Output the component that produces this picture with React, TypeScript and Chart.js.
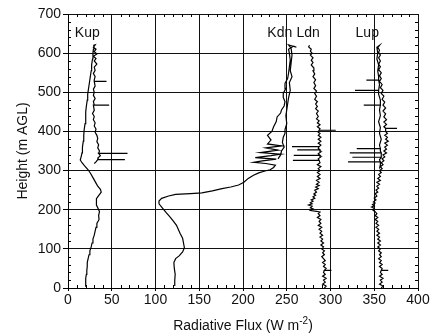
import React, { useEffect, useRef } from "react";
import { Chart, registerables } from "chart.js";

Chart.register(...registerables);

// [flux (W m-2), height (m AGL)]
const kup: [number, number][] = [
  [19.5, 5], [20, 15], [20.5, 25], [21, 35], [21.5, 45], [22, 55], [22, 65], [23, 75], [24, 85], [25, 95],
  [26.5, 105], [27.5, 115], [28.5, 125], [30, 135], [31, 145], [32, 155], [33, 165], [35.5, 175], [35, 185], [36, 195],
  [34, 205], [32.5, 212], [32, 220], [33, 228], [35, 236], [38, 245], [37, 252], [34, 260], [32, 268], [29, 280],
  [26, 292], [23, 302], [19, 312], [16, 320], [14, 327], [15, 335], [16, 345], [16.5, 360], [17.5, 375], [18, 390],
  [18.5, 405], [19.5, 420], [20, 435], [20.5, 450], [21, 465], [22, 480], [22.5, 495], [23.5, 510], [24.5, 525], [25.5, 540],
  [26.5, 555], [27, 570], [28, 585], [28.5, 600], [29, 610], [29.5, 620],
  [31, 621], [29, 615], [32, 610], [30, 604], [33, 598], [29, 592], [32, 586], [30, 580], [33, 572], [30, 564],
  [31, 556], [29, 548], [31, 540], [30, 532], [30, 528], [44, 528], [30, 528], [31, 516], [29, 508], [30, 500],
  [29, 492], [31, 484], [29, 476], [30, 468], [30, 467], [47, 467], [29, 467], [30, 454], [28, 446], [30, 438],
  [29, 430], [31, 422], [30, 414], [32, 406], [31, 398], [33, 390], [34, 382], [33, 374], [35, 366], [34, 358],
  [36, 350], [35, 344], [68, 344], [35, 344], [37, 338], [34, 332], [35, 328], [65, 328], [34, 328], [32, 322], [30, 318],
];

const kdn: [number, number][] = [
  [122, 5], [122, 20], [122.5, 35], [121.5, 50], [121, 65], [123, 75], [127, 82], [131, 92], [133, 103], [132, 115],
  [131, 127], [128, 140], [126, 150], [124, 160], [120, 172], [116, 183], [112, 193], [108, 204], [104, 215], [104, 222],
  [107, 229], [115, 235], [123, 239], [140, 241], [153, 243], [165, 248], [176, 254], [186, 258], [195, 263], [201, 270],
  [206, 280], [212, 288], [218, 294], [225, 299], [231, 302], [235, 308], [237, 314], [226, 318], [212, 321], [222, 325],
  [238, 329], [214, 333], [232, 338], [243, 342], [220, 346], [240, 352], [226, 358], [244, 363], [228, 368], [232, 378],
  [228, 390], [233, 400], [235, 412], [238, 425], [239, 437], [243, 447], [244, 455], [247, 465], [248, 476], [246, 487],
  [246, 497], [249, 510], [248, 523], [251, 535], [252, 548], [253, 565], [254, 582], [253, 600], [252, 610], [258, 618],
  [261, 615], [252, 621],
  [255, 612], [256, 595], [255, 575], [254, 555], [256, 540], [253, 525], [254, 505], [252, 485], [251, 470], [250, 455],
  [249, 440], [250, 420], [248, 405], [248, 395], [246, 385], [245, 372], [247, 360], [244, 350], [243, 340], [240, 330],
];

const ldn: [number, number][] = [
  [293, 0], [295, 5], [291, 10], [294, 15], [292, 20], [295, 25], [291, 30], [294, 35], [292, 40], [293, 45], [301, 45], [293, 45],
  [295, 50], [292, 55], [294, 60], [291, 65], [294, 70], [292, 75], [290, 80], [293, 85], [291, 90], [293, 95],
  [290, 100], [292, 105], [289, 110], [292, 115], [289, 120], [291, 125], [288, 130], [291, 135], [288, 140], [290, 145],
  [287, 150], [290, 155], [286, 160], [289, 165], [287, 170], [289, 175], [285, 180], [288, 185], [286, 190], [288, 194],
  [284, 196], [277, 198], [280, 202], [277, 205], [279, 209], [275, 212], [279, 215], [277, 218], [280, 222], [278, 225],
  [282, 229], [280, 233], [283, 237], [281, 240], [284, 245], [282, 250], [286, 254], [283, 258], [287, 262], [284, 265],
  [287, 270], [284, 275], [288, 280], [285, 285], [288, 290], [285, 295], [288, 300], [286, 305], [289, 310], [285, 315],
  [288, 320], [287, 326], [257, 326], [287, 326], [286, 330], [289, 335], [288, 339], [258, 339], [288, 339], [286, 343],
  [289, 348], [288, 353], [262, 353], [288, 353], [286, 357], [287, 361], [256, 361], [287, 361], [289, 365], [286, 370],
  [289, 375], [286, 380], [289, 385], [286, 390], [288, 395], [286, 398], [287, 403], [306, 403], [287, 403], [288, 407],
  [285, 412], [288, 417], [285, 422], [287, 427], [284, 432], [286, 438], [284, 446], [286, 452], [283, 458], [285, 464],
  [283, 470], [285, 476], [282, 482], [284, 490], [282, 497], [284, 503], [281, 510], [283, 517], [281, 525], [283, 532],
  [280, 540], [282, 547], [280, 555], [281, 562], [278, 570], [280, 576], [278, 582], [280, 588], [277, 595], [279, 600],
  [277, 605], [278, 610], [275, 616], [276, 620],
];

const lup: [number, number][] = [
  [358, 0], [360, 5], [356, 10], [359, 15], [357, 20], [360, 25], [356, 30], [359, 35], [357, 40], [358, 45], [366, 45], [358, 45],
  [359, 50], [356, 55], [359, 60], [356, 65], [358, 70], [355, 75], [358, 80], [356, 85], [358, 90], [355, 95],
  [357, 100], [354, 105], [357, 110], [354, 115], [357, 120], [354, 125], [356, 130], [353, 135], [356, 140], [353, 145],
  [355, 150], [352, 155], [355, 160], [352, 165], [354, 170], [351, 175], [354, 180], [351, 185], [353, 190], [351, 195],
  [348, 200], [350, 204], [347, 207], [350, 210], [348, 213], [351, 217], [349, 220], [352, 225], [350, 230], [353, 235],
  [351, 241], [354, 245], [352, 250], [355, 255], [353, 260], [356, 265], [353, 270], [357, 275], [354, 280], [357, 285],
  [355, 290], [358, 295], [356, 300], [359, 305], [357, 310], [360, 315], [358, 320], [361, 325], [359, 330], [362, 335],
  [360, 340], [364, 345], [361, 350], [364, 355], [362, 360], [365, 365], [362, 370], [366, 375], [363, 380], [365, 385],
  [362, 390], [365, 395], [363, 400], [363, 408], [376, 408], [363, 408], [361, 412], [364, 418], [361, 424], [364, 430],
  [361, 437], [363, 445], [360, 452], [363, 460], [360, 467], [362, 475], [359, 482], [361, 490], [358, 497], [360, 505],
  [357, 512], [359, 520], [356, 528], [358, 535], [356, 542], [358, 550], [355, 558], [357, 565], [355, 572], [357, 580],
  [355, 588], [357, 595], [355, 602], [356, 608], [354, 614], [356, 620],
  [353, 615], [354, 600], [353, 585], [355, 570], [354, 555], [355, 540], [355, 531], [341, 531], [355, 531], [356, 520],
  [355, 505], [328, 505], [355, 505], [355, 495], [357, 480], [357, 467], [338, 467], [357, 467], [356, 455], [357, 440],
  [355, 425], [357, 410], [356, 395], [358, 380], [356, 365], [357, 356], [330, 356], [357, 356], [357, 350], [358, 345],
  [322, 345], [358, 345], [358, 340], [358, 334], [325, 334], [358, 334], [356, 328], [357, 322], [320, 322], [357, 322],
  [357, 315], [356, 305],
];

const seriesNames = ["Kup", "Kdn", "Ldn", "Lup"];
const seriesData = [kup, kdn, ldn, lup];
const labelFlux = [22, 242, 274.5, 342];
const labelHeight = 651;

const xTicks = { min: 0, max: 400, step: 50, minor: 10 };
const yTicks = { min: 0, max: 700, step: 100, minor: 20 };

const FONT = "'Liberation Sans', Arial, Helvetica, sans-serif";

export default function App() {
  const ref = useRef<HTMLCanvasElement | null>(null);

  useEffect(() => {
    if (!ref.current) return;
    const decor = {
      id: "decor",
      afterDraw(chart: any) {
        const { ctx, chartArea: a, scales } = chart;
        const x = scales.x;
        const y = scales.y;
        ctx.save();
        ctx.strokeStyle = "#000";
        ctx.lineWidth = 1;
        ctx.beginPath();
        for (let v = xTicks.min; v <= xTicks.max; v += xTicks.minor) {
          if (v % xTicks.step === 0) continue;
          const px = Math.round(x.getPixelForValue(v)) + 0.5;
          ctx.moveTo(px, a.bottom);
          ctx.lineTo(px, a.bottom - 3);
          ctx.moveTo(px, a.top);
          ctx.lineTo(px, a.top + 3);
        }
        for (let v = yTicks.min; v <= yTicks.max; v += yTicks.minor) {
          if (v % yTicks.step === 0) continue;
          const py = Math.round(y.getPixelForValue(v)) + 0.5;
          ctx.moveTo(a.left, py);
          ctx.lineTo(a.left + 3, py);
          ctx.moveTo(a.right, py);
          ctx.lineTo(a.right - 3, py);
        }
        ctx.stroke();

        ctx.fillStyle = "#111";
        ctx.font = `14px ${FONT}`;
        ctx.textAlign = "center";
        ctx.textBaseline = "middle";
        seriesNames.forEach((n, i) => {
          ctx.fillText(n, x.getPixelForValue(labelFlux[i]), y.getPixelForValue(labelHeight));
        });

        // x axis title with superscript
        const main = "Radiative Flux (W m";
        const sup = "-2";
        const end = ")";
        ctx.textBaseline = "alphabetic";
        ctx.textAlign = "left";
        ctx.font = `14px ${FONT}`;
        const w1 = ctx.measureText(main).width;
        const w3 = ctx.measureText(end).width;
        ctx.font = `10px ${FONT}`;
        const w2 = ctx.measureText(sup).width;
        const cx = (a.left + a.right) / 2;
        let sx = cx - (w1 + w2 + w3) / 2;
        const base = 330;
        ctx.font = `14px ${FONT}`;
        ctx.fillText(main, sx, base);
        sx += w1;
        ctx.font = `10px ${FONT}`;
        ctx.fillText(sup, sx, base - 6);
        sx += w2;
        ctx.font = `14px ${FONT}`;
        ctx.fillText(end, sx, base);

        // y axis title
        ctx.translate(23, (a.top + a.bottom) / 2);
        ctx.rotate(-Math.PI / 2);
        ctx.textAlign = "center";
        ctx.textBaseline = "middle";
        ctx.fillText("Height (m AGL)", 0, 0);
        ctx.restore();
      },
    };

    const chart = new Chart(ref.current, {
      type: "scatter",
      data: {
        datasets: seriesData.map((d, i) => ({
          label: seriesNames[i],
          data: d.map(([f, h]) => ({ x: f, y: h })),
          showLine: true,
          borderColor: "#000",
          backgroundColor: "#000",
          borderWidth: 1.2,
          pointRadius: 0,
          tension: 0,
        })),
      },
      options: {
        animation: false,
        responsive: false,
        maintainAspectRatio: false,
        layout: { padding: { left: 0, top: 14, right: 15, bottom: 0 } },
        plugins: { legend: { display: false }, tooltip: { enabled: false } },
        scales: {
          x: {
            type: "linear",
            min: xTicks.min,
            max: xTicks.max,
            afterFit: (s: any) => {
              s.height = 46;
            },
            ticks: { stepSize: xTicks.step, color: "#111", font: { family: FONT, size: 14 }, padding: 1, maxRotation: 0 },
            grid: { color: "#111", lineWidth: 1, tickLength: 3, tickColor: "#000" },
            border: { display: true, color: "#000", width: 1 },
          },
          y: {
            type: "linear",
            min: yTicks.min,
            max: yTicks.max,
            afterFit: (s: any) => {
              s.width = 68;
            },
            ticks: { stepSize: yTicks.step, color: "#111", font: { family: FONT, size: 14 }, padding: 2 },
            grid: { color: "#111", lineWidth: 1, tickLength: 5, tickColor: "#000" },
            border: { display: true, color: "#000", width: 1 },
          },
        },
      },
      plugins: [decor],
    } as any);
    return () => chart.destroy();
  }, []);

  return (
    <div style={{ position: "fixed", left: 0, top: 0, width: 433, height: 334, background: "#fff" }}>
      <canvas ref={ref} width={433} height={334} style={{ display: "block" }} />
    </div>
  );
}
